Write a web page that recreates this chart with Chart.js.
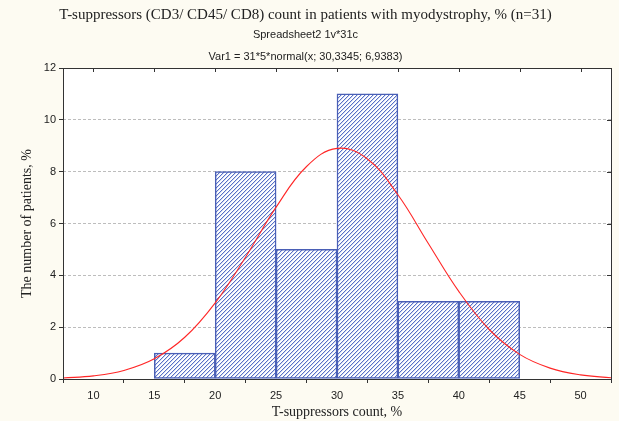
<!DOCTYPE html>
<html>
<head>
<meta charset="utf-8">
<script src="https://cdn.jsdelivr.net/npm/chart.js@4.4.1/dist/chart.umd.min.js"></script>
<style>
  html, body { margin: 0; padding: 0; background: #fdfbf2; }
  canvas { display: block; }
</style>
</head>
<body>
<canvas id="histogram" width="619" height="421"></canvas>
<script>
// histogram bins (centres, width 5) and patient counts
var binCentres = [17.5, 22.5, 27.5, 32.5, 37.5, 42.5];
var binCounts = [1, 8, 5, 11, 3, 3];

// fitted normal curve, sampled every 2.5
var curveX = [7.5, 10, 12.5, 15, 17.5, 20, 22.5, 25, 27.5, 30, 32.5, 35, 37.5, 40, 42.5, 45, 47.5, 50, 52.5];
var curveY = [0.04, 0.12, 0.33, 0.78, 1.61, 2.94, 4.71, 6.63, 8.20, 8.90, 8.49, 7.11, 5.23, 3.38, 1.91, 0.95, 0.42, 0.16, 0.05];

var xTicks = [10, 15, 20, 25, 30, 35, 40, 45, 50];
var yTicks = [0, 2, 4, 6, 8, 10, 12];

var SERIF = '"Liberation Serif", "Times New Roman", serif';
var SANS = '"Liberation Sans", Arial, sans-serif';

// 4x4 tile with a crisp "/" stripe and a soft edge next to it
function hatchPattern() {
    var size = 4;
    var c = document.createElement('canvas');
    c.width = size;
    c.height = size;
    var g = c.getContext('2d');
    g.fillStyle = '#ffffff';
    g.fillRect(0, 0, size, size);
    for (var row = 0; row < size; row++) {
        var col = size - 1 - row;
        g.fillStyle = '#5870c6';
        g.fillRect(col, row, 1, 1);
        g.fillStyle = '#d3daf2';
        g.fillRect((col + 1) % size, row, 1, 1);
    }
    return g.createPattern(c, 'repeat');
}

// white plot area, frame and the inward ticks on the top and right sides
var frame = {
    id: 'frame',
    beforeDraw: function (chart) {
        var a = chart.chartArea;
        var ctx = chart.ctx;
        ctx.save();
        ctx.fillStyle = '#ffffff';
        ctx.fillRect(a.left, a.top, a.right - a.left, a.bottom - a.top);
        ctx.restore();
    },
    afterDraw: function (chart) {
        var a = chart.chartArea;
        var ctx = chart.ctx;
        var xs = chart.scales.x;
        var ys = chart.scales.y;
        ctx.save();
        ctx.strokeStyle = '#333333';
        ctx.lineWidth = 1;
        ctx.strokeRect(Math.round(a.left) + 0.5, Math.round(a.top) + 0.5,
            Math.round(a.right - a.left), Math.round(a.bottom - a.top));
        ctx.beginPath();
        xTicks.forEach(function (v) {
            var px = Math.round(xs.getPixelForValue(v)) + 0.5;
            ctx.moveTo(px, a.top);
            ctx.lineTo(px, a.top + 4);
        });
        yTicks.forEach(function (v) {
            var py = Math.round(ys.getPixelForValue(v)) + 0.5;
            ctx.moveTo(a.right, py);
            ctx.lineTo(a.right - 4, py);
        });
        ctx.stroke();
        ctx.restore();
    }
};

new Chart(document.getElementById('histogram').getContext('2d'), {
    type: 'bar',
    data: {
        datasets: [
            {
                type: 'line',
                data: curveX.map(function (x, i) {
                    return {x: x, y: curveY[i]};
                }),
                borderColor: '#ff2626',
                borderWidth: 1.1,
                pointRadius: 0,
                tension: 0.4,
                fill: false,
                order: 0
            },
            {
                type: 'bar',
                data: binCentres.map(function (x, i) {
                    return {x: x, y: binCounts[i]};
                }),
                backgroundColor: hatchPattern(),
                borderColor: '#4a5fb6',
                borderWidth: 1.5,
                borderSkipped: false,
                barPercentage: 1,
                categoryPercentage: 1,
                order: 1
            }
        ]
    },
    options: {
        responsive: false,
        animation: false,
        layout: {padding: {left: 0, right: 8, top: 0, bottom: 0}},
        plugins: {
            legend: {display: false},
            tooltip: {enabled: false},
            title: {
                display: true,
                text: 'T-suppressors (CD3/ CD45/ CD8) count in patients with myodystrophy, % (n=31)',
                color: '#222222',
                font: {family: SERIF, size: 15, weight: 'normal', lineHeight: 1},
                padding: {top: 8, bottom: 0}
            },
            subtitle: {
                display: true,
                text: ['Spreadsheet2 1v*31c', 'Var1 = 31*5*normal(x; 30,3345; 6,9383)'],
                color: '#222222',
                font: {family: SANS, size: 11, lineHeight: 2.0},
                padding: {top: 1, bottom: 0}
            }
        },
        scales: {
            x: {
                type: 'linear',
                min: 7.5,
                max: 52.5,
                offset: false,
                afterBuildTicks: function (scale) {
                    scale.ticks = xTicks.map(function (v) { return {value: v}; });
                },
                afterFit: function (scale) {
                    scale.height = 42;
                },
                grid: {
                    drawOnChartArea: false,
                    drawTicks: true,
                    tickLength: 4,
                    tickColor: '#333333'
                },
                border: {display: false},
                ticks: {
                    color: '#222222',
                    font: {family: SANS, size: 11},
                    padding: 6,
                    maxRotation: 0
                },
                title: {
                    display: true,
                    text: 'T-suppressors count, %',
                    color: '#222222',
                    font: {family: SERIF, size: 14},
                    padding: {top: 0, bottom: 0}
                }
            },
            y: {
                min: 0,
                max: 12,
                afterBuildTicks: function (scale) {
                    scale.ticks = yTicks.map(function (v) { return {value: v}; });
                },
                afterFit: function (scale) {
                    scale.width = 63;
                },
                grid: {
                    color: function (ctx) {
                        var v = ctx.tick ? ctx.tick.value : null;
                        return (v === 0 || v === 12) ? 'rgba(0,0,0,0)' : '#bdbdbd';
                    },
                    tickColor: '#333333',
                    tickLength: 4,
                    lineWidth: 1
                },
                border: {display: false, dash: [3, 2]},
                ticks: {
                    color: '#222222',
                    font: {family: SANS, size: 11},
                    padding: 3
                },
                title: {
                    display: true,
                    text: 'The number of patients, %',
                    color: '#222222',
                    font: {family: SERIF, size: 14},
                    padding: {top: 19, bottom: 0}
                }
            }
        }
    },
    plugins: [frame]
});
</script>
</body>
</html>
